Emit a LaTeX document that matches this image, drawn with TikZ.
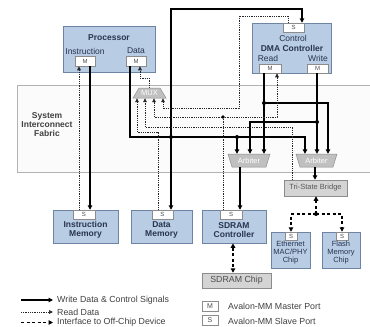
\documentclass[tikz,border=0pt]{standalone}
\usepackage{fontspec}
\setmainfont{Liberation Sans}
\usetikzlibrary{arrows.meta}
\definecolor{bfill}{RGB}{184,204,228}
\definecolor{bdraw}{RGB}{110,132,165}
\definecolor{tdark}{RGB}{40,52,80}
\definecolor{gfill}{RGB}{192,192,192}
\definecolor{gdraw}{RGB}{140,140,140}
\definecolor{brfill}{RGB}{212,212,212}
\definecolor{fabtxt}{RGB}{64,64,64}
\begin{document}
\begin{tikzpicture}[x=1pt,y=-1pt,
 font=\fontsize{8.5}{9}\selectfont,
 bluebox/.style={draw=bdraw, fill=bfill, line width=0.6pt, inner sep=0pt},
 port/.style={draw=gdraw, fill=white, line width=0.5pt, inner sep=0pt, font=\fontsize{6}{6}\selectfont, text=black!70},
 lbl/.style={text=tdark, inner sep=0pt},
 blbl/.style={text=tdark, font=\fontsize{8.5}{9}\selectfont\bfseries, align=center, inner sep=0pt},
 gshape/.style={draw=gdraw, fill=gfill, line width=0.5pt},
 gtext/.style={text=white, font=\fontsize{7.5}{8}\selectfont, inner sep=0pt},
 wr/.style={line width=1.6pt, -{Triangle[length=4.5pt,width=4.5pt]}},
 rd/.style={line width=0.7pt, black!85, dash pattern=on 1pt off 0.8pt, -{Triangle[length=4pt,width=3.6pt]}},
 ocl/.style={line width=1.6pt, dash pattern=on 3pt off 2.5pt},
 tip/.style={-{Triangle[length=4.5pt,width=4.5pt]}},
 tips/.style={{Triangle[length=4.5pt,width=4.5pt]}-{Triangle[length=4.5pt,width=4.5pt]}},
 jdot/.style={fill=black},
 legtxt/.style={anchor=west, text=black!75, font=\fontsize{8.8}{9}\selectfont, inner sep=0pt}
]
\useasboundingbox (0,0) rectangle (370,327);
\fill[white] (0,0) rectangle (370,327);

% fabric
\draw[draw=gray!60, fill=gray!3, line width=0.6pt] (17,85) rectangle (380,172);
\node[text=fabtxt, font=\fontsize{8.5}{9}\selectfont\bfseries, align=center, inner sep=0pt] (fab) at (47,125) {System\\Interconnect\\Fabric};

% processor
\node[bluebox, minimum width=92pt, minimum height=46pt] (proc) at (109,49) {};
\node[blbl] (proct) at (109,38) {Processor};
\node[lbl] (pil) at (85,51) {Instruction};
\node[lbl] (pdl) at (136,51) {Data};
\node[port, minimum width=20pt, minimum height=10pt] (mI) at (85,61) {M};
\node[port, minimum width=20pt, minimum height=10pt] (mD) at (136,61) {M};

% DMA
\node[bluebox, minimum width=79pt, minimum height=50pt] (dma) at (291.5,48) {};
\node[port, minimum width=21pt, minimum height=9pt] (sDMA) at (293.5,27.5) {S};
\node[lbl] (dcl) at (293,38) {Control};
\node[blbl] (dmat) at (292,48) {DMA Controller};
\node[lbl] (drl) at (268,58) {Read};
\node[lbl] (dwl) at (318,58) {Write};
\node[port, minimum width=22pt, minimum height=9pt] (mR) at (270,68.5) {M};
\node[port, minimum width=21pt, minimum height=9pt] (mW) at (317.5,68.5) {M};

% MUX and arbiters
\draw[gshape] (139,88) -- (160,88) -- (166,98) -- (133,98) -- cycle;
\node[gtext, minimum width=33pt, minimum height=10pt] (mux) at (149.5,93) {MUX};
\draw[gshape] (228,154) -- (270,154) -- (266,167) -- (232,167) -- cycle;
\node[gtext, minimum width=42pt, minimum height=13pt] (arb1) at (249,160.5) {Arbiter};
\draw[gshape] (296,154) -- (337,154) -- (333,167) -- (300,167) -- cycle;
\node[gtext, minimum width=41pt, minimum height=13pt] (arb2) at (316.5,160.5) {Arbiter};

% bridge
\node[draw=gdraw, fill=brfill, line width=0.5pt, minimum width=63pt, minimum height=16pt, inner sep=0pt, text=black!65, font=\fontsize{7.5}{8}\selectfont] (bridge) at (315.5,188) {Tri-State Bridge};

% memories
\node[bluebox, minimum width=65pt, minimum height=33pt] (imem) at (85.5,226.5) {};
\node[port, minimum width=22pt, minimum height=9pt] (sI) at (84,214.5) {S};
\node[blbl] (imt) at (85.5,230) {Instruction\\Memory};
\node[bluebox, minimum width=61pt, minimum height=33pt] (dmem) at (161.5,226.5) {};
\node[port, minimum width=21pt, minimum height=9pt] (sDM) at (162.5,214.5) {S};
\node[blbl] (dmt) at (161.5,230) {Data\\Memory};
\node[bluebox, minimum width=64pt, minimum height=33pt] (sdc) at (234,226.5) {};
\node[port, minimum width=22pt, minimum height=9pt] (sSC) at (231,214.5) {S};
\node[blbl] (sdct) at (234,230) {SDRAM\\Controller};
\node[draw=gdraw, fill=brfill, line width=0.5pt, minimum width=69pt, minimum height=15pt, inner sep=0pt, text=black!70, font=\fontsize{8.8}{9}\selectfont] (chip) at (236.5,280.5) {SDRAM Chip};

\node[bluebox, minimum width=39pt, minimum height=36pt] (eth) at (290.5,250) {};
\node[port, minimum width=12pt, minimum height=8pt] (sE) at (291,236) {S};
\node[lbl, align=center, font=\fontsize{7.5}{8}\selectfont] (etht) at (290.5,253) {Ethernet\\MAC/PHY\\Chip};
\node[bluebox, minimum width=38pt, minimum height=36pt] (fla) at (341,250) {};
\node[port, minimum width=12pt, minimum height=8pt] (sF) at (342,236) {S};
\node[lbl, align=center, font=\fontsize{7.5}{8}\selectfont] (flat) at (341,253) {Flash\\Memory\\Chip};

% write / control (thick)
\draw[wr] (90,0 |- mI.south) -- (90,0 |- sI.north);
\draw[wr] (130,0 |- mD.south) -- (130,137) -- (305,137) -- (305,0 |- arb2.north);
\draw[wr] (171,137) -- (171,9) -- (302,9) -- (302,0 |- sDMA.north);
\draw[wr] (171,137) -- (171,0 |- sDM.north);
\draw[wr] (237,137) -- (237,0 |- arb1.north);
\draw[wr] (264,0 |- mR.south) -- (264,0 |- arb1.north);
\draw[wr] (264,103) -- (328,103) -- (328,0 |- arb2.north);
\draw[wr] (317,0 |- mW.south) -- (317,0 |- arb2.north);
\draw[wr] (317,122) -- (250,122) -- (250,0 |- arb1.north);
\draw[wr] (240,0 |- arb1.south) -- (240,0 |- sSC.north);
\draw[wr] (315,0 |- arb2.south) -- (315,0 |- bridge.north);
\fill[jdot] (171,137) circle (2pt);
\fill[jdot] (237,137) circle (2pt);
\fill[jdot] (264,103) circle (2pt);
\fill[jdot] (317,122) circle (2pt);

% read data (dotted)
\draw[rd] (79,0 |- sI.north) -- (79,0 |- mI.south);
\draw[rd] (149,0 |- mux.north) -- (149,78) -- (140,78) -- (140,0 |- mD.south);
\draw[rd] (158,0 |- sDM.north) -- (158,132) -- (137,132) -- (137,0 |- mux.south);
\draw[rd] (292,0 |- bridge.north) -- (292,127) -- (145,127) -- (145,0 |- mux.south);
\draw[rd] (223,0 |- sSC.north) -- (223,117) -- (154,117) -- (154,0 |- mux.south);
\draw[rd] (223,117) -- (277,117) -- (277,0 |- mR.south);
\draw[rd] (288,0 |- sDMA.north) -- (288,16) -- (239,16) -- (239,108) -- (163,108) -- (163,0 |- mux.south);
\fill[jdot] (223,117) circle (1.8pt);

% off-chip (dashed)
\draw[ocl, tip] (316,214) -- (316,0 |- bridge.south);
\draw[ocl, tip] (316,214) -| (291,0 |- sE.north);
\draw[ocl, tip] (316,214) -| (342,0 |- sF.north);
\fill[jdot] (316,214) circle (2pt);
\draw[ocl, tips] (233,0 |- sdc.south) -- (233,0 |- chip.north);

% legend
\coordinate (l1a) at (21,300); \coordinate (l1b) at (53,300);
\coordinate (l2a) at (21,312); \coordinate (l2b) at (53,312);
\coordinate (l3a) at (21,322.5); \coordinate (l3b) at (53,322.5);
\draw[line width=1.1pt, tip] (l1a) -- (l1b);
\draw[rd] (l2a) -- (l2b);
\draw[ocl, line width=1.3pt, tip] (l3a) -- (l3b);
\node[legtxt] (lt1) at (57,300) {Write Data \& Control Signals};
\node[legtxt] (lt2) at (57,312) {Read Data};
\node[legtxt] (lt3) at (57,322.5) {Interface to Off-Chip Device};
\node[port, minimum width=16pt, minimum height=10pt, font=\fontsize{7}{7}\selectfont] (legM) at (210,306) {M};
\node[port, minimum width=16pt, minimum height=10pt, font=\fontsize{7}{7}\selectfont] (legS) at (210,320.5) {S};
\node[legtxt] (lt4) at (228,306) {Avalon-MM Master Port};
\node[legtxt] (lt5) at (228,321) {Avalon-MM Slave Port};
\end{tikzpicture}
\end{document}
